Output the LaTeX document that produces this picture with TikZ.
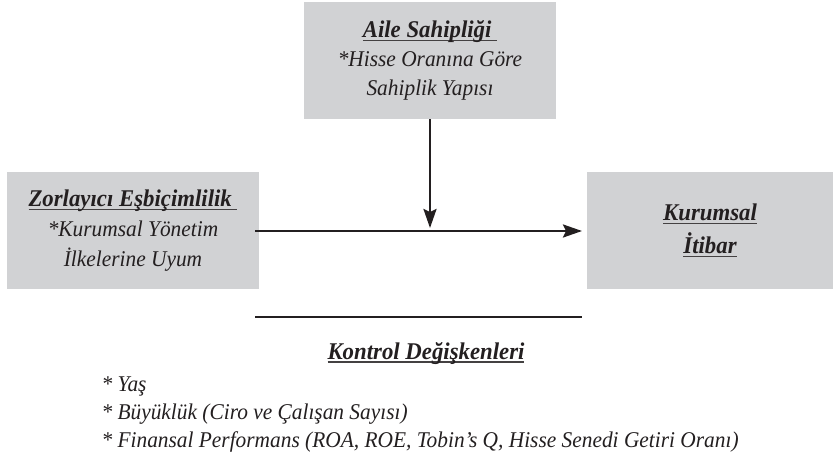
\documentclass[tikz,border=0pt]{standalone}
\usepackage{fontspec}
\setmainfont{Liberation Serif}[FakeStretch=0.95]
\usetikzlibrary{arrows.meta}
\definecolor{boxgray}{RGB}{209,210,212}
\definecolor{ink}{RGB}{35,31,32}
\newcommand{\ulx}[1]{\setbox0\hbox{#1}\rlap{\color{ink!85}\rule[-3.6pt]{\wd0}{1.4pt}}\box0}
\newcommand{\ttl}[1]{{\fontsize{24}{29}\selectfont\bfseries\ulx{#1}}}
\begin{document}
\begin{tikzpicture}[x=1pt,y=1pt,
  txt/.style={font=\fontsize{22.5}{29}\selectfont\itshape, text=ink},
  varbox/.style={fill=boxgray, draw=none, inner sep=0pt, align=center, txt},
  conn/.style={draw=ink, line width=2.5pt},
  arr/.style={conn, -{Stealth[length=19pt,width=13pt,inset=3pt]}}
]
\useasboundingbox (0,0) rectangle (834,461);
% boxes
\node[varbox, minimum width=252pt, minimum height=117pt] (aile) at (430,400.5)
  {\ttl{Aile Sahipliği\ }\\*Hisse Oranına Göre\\Sahiplik Yapısı};
\node[varbox, minimum width=252pt, minimum height=117pt, font=\fontsize{22.5}{30}\selectfont\itshape] (zor) at (133,230.5)
  {\ttl{Zorlayıcı Eşbiçimlilik\ }\\*Kurumsal Yönetim\\İlkelerine Uyum};
\node[varbox, minimum width=246pt, minimum height=117pt, font=\fontsize{22.5}{33}\selectfont\itshape] (kur) at (710,230.5)
  {\ttl{Kurumsal}\\\ttl{İtibar}};
% connectors
\coordinate (hs) at (255,230);
\coordinate (he) at (582,230);
\coordinate (vt) at (430,233);
\draw[arr] (hs) -- (he);
\draw[arr] (aile.south) -- (vt);
% control variables
\coordinate (ls) at (255,144);
\coordinate (le) at (582,144);
\draw[conn] (ls) -- (le);
\node[txt, anchor=base] (kon) at (426,102) {\ttl{Kontrol Değişkenleri}};
\node[txt, anchor=base west] (c1) at (98,70) {* Yaş};
\node[txt, anchor=base west] (c2) at (98,42) {* Büyüklük (Ciro ve Çalışan Sayısı)};
\node[txt, anchor=base west] (c3) at (98,14) {* Finansal Performans (ROA, ROE, Tobin’s Q, Hisse Senedi Getiri Oranı)};
\end{tikzpicture}
\end{document}
